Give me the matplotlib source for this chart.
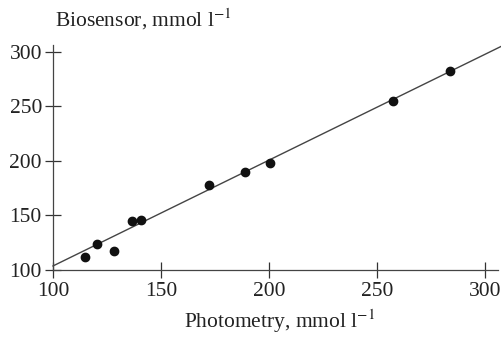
import matplotlib
matplotlib.use("Agg")
import matplotlib.pyplot as plt
import numpy as np

plt.rcParams['font.family'] = ['Liberation Serif', 'DejaVu Serif']
plt.rcParams['mathtext.fontset'] = 'stix'

# Glucose readings: photometric reference vs biosensor
photometry = [114.8, 120.5, 128.4, 136.7, 140.9, 172.4, 188.9, 200.5, 257.6, 283.8]
biosensor = [111.6, 123.9, 117.4, 145.3, 146.2, 177.7, 189.7, 197.9, 254.8, 282.3]
x_ticks = [100, 150, 200, 250, 300]
y_ticks = [100, 150, 200, 250, 300]

# Calibration line (biosensor = slope * photometry + intercept)
fit_slope = 0.969
fit_intercept = 6.8

fig = plt.figure(figsize=(5.01, 3.4), dpi=100)
ax = fig.add_axes([53 / 501, 70 / 340, 445 / 501, 225 / 340])
xlim = (100, 306)
ax.set_xlim(*xlim)
ax.set_ylim(100, 306)

xs = np.array([100, 309])
ax.plot(xs, fit_slope * xs + fit_intercept, color='#444444', lw=1.0, clip_on=False)
ax.plot(photometry, biosensor, 'o', color='#111111', ms=6, clip_on=False)

for s in ('top', 'right'):
    ax.spines[s].set_visible(False)
for s in ('left', 'bottom'):
    ax.spines[s].set_linewidth(0.9)
    ax.spines[s].set_color('#444444')

ax.set_xticks(x_ticks)
ax.set_yticks(y_ticks)
ax.tick_params(direction='inout', length=12, width=0.9, color='#333333',
               labelsize=15.5, labelcolor='#222222')
ax.tick_params(axis='x', pad=3)
ax.tick_params(axis='y', pad=2)

fig.text(55 / 501, 1 - 27 / 340, r'Biosensor, mmol l$^{-1}$', fontsize=15.5,
         color='#222222', ha='left', va='baseline')
fig.text(280 / 501, 1 - 328 / 340, r'Photometry, mmol l$^{-1}$', fontsize=15.5,
         color='#222222', ha='center', va='baseline')

fig.savefig('out.png', dpi=100)
